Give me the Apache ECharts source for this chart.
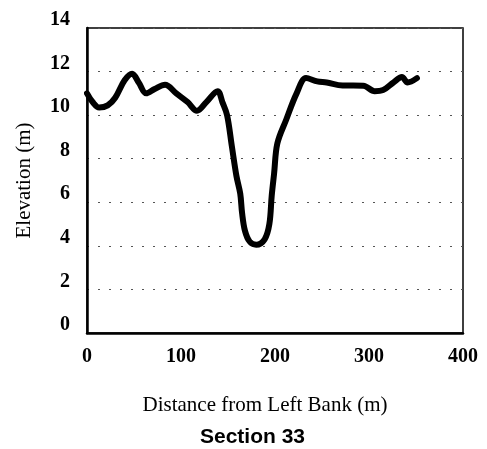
<!DOCTYPE html>
<html>
<head>
<meta charset="utf-8">
<script src="https://cdn.jsdelivr.net/npm/echarts@6/dist/echarts.min.js"></script>
<style>
  html, body { margin: 0; padding: 0; background: #fff; }
  #chart { width: 487px; height: 449px; }
</style>
</head>
<body>
<div id="chart"></div>
<script>
// Cross-section survey: distance from the left bank (m) and bed elevation (m)
const distance = [0, 6, 13, 22, 30, 40, 48, 55, 63, 72, 83, 95, 107, 117, 127, 139, 144, 149, 154, 159, 163, 165, 168, 173, 180, 189, 194, 196.5, 199, 202.5, 212, 223, 233, 245, 255, 272, 294, 306, 315, 326, 335, 341, 351];
const elevation = [11.0, 10.6, 10.35, 10.45, 10.8, 11.6, 11.9, 11.5, 11.0, 11.2, 11.4, 11.0, 10.6, 10.2, 10.6, 11.1, 10.6, 10.0, 8.6, 7.2, 6.4, 5.5, 4.7, 4.2, 4.05, 4.3, 5.0, 6.3, 7.3, 8.7, 9.8, 11.0, 11.7, 11.55, 11.5, 11.36, 11.35, 11.1, 11.15, 11.5, 11.75, 11.5, 11.7];
const xTicks = [0, 100, 200, 300, 400];
const yTicks = [0, 2, 4, 6, 8, 10, 12, 14];
const xTitle = 'Distance from Left Bank (m)';
const yTitle = 'Elevation (m)';
const sectionLabel = 'Section 33';

const points = distance.map((d, i) => [d, elevation[i]]);
const serif = '"Liberation Serif", "Times New Roman", serif';

const chart = echarts.init(document.getElementById('chart'));
chart.setOption({
  animation: false,
  backgroundColor: '#fff',
  grid: {
    left: 87, right: 24, top: 28, bottom: 116,
    show: true, borderColor: '#000', borderWidth: 1.5
  },
  xAxis: {
    type: 'value',
    min: xTicks[0], max: xTicks[xTicks.length - 1],
    interval: xTicks[1] - xTicks[0],
    name: xTitle,
    nameLocation: 'middle',
    nameGap: 62,
    nameTextStyle: { fontFamily: serif, fontSize: 21, color: '#000', padding: [0, 20, 0, 0] },
    axisLine: { show: true, lineStyle: { color: '#000', width: 2.5 } },
    axisTick: { show: false },
    splitLine: { show: false },
    axisLabel: { fontFamily: serif, fontSize: 20, fontWeight: 'bold', color: '#000', margin: 14 }
  },
  yAxis: {
    type: 'value',
    min: yTicks[0], max: yTicks[yTicks.length - 1],
    interval: yTicks[1] - yTicks[0],
    name: yTitle,
    nameLocation: 'middle',
    nameGap: 52,
    nameTextStyle: { fontFamily: serif, fontSize: 21, color: '#000' },
    axisLine: { show: true, lineStyle: { color: '#000', width: 2.5 } },
    axisTick: { show: false },
    splitLine: { show: true, lineStyle: { color: '#555', width: 1, type: [2, 9] } },
    axisLabel: { fontFamily: serif, fontSize: 20, fontWeight: 'bold', color: '#000', margin: 17, verticalAlign: 'bottom', lineHeight: 16 }
  },
  graphic: [{
    type: 'text',
    left: 200, top: 427,
    style: { text: sectionLabel, font: 'bold 21px "Liberation Sans", Arial, sans-serif', fill: '#000' }
  }],
  series: [{
    type: 'line',
    data: points,
    smooth: 0.35,
    showSymbol: false,
    lineStyle: { color: '#000', width: 6, cap: 'round', join: 'round' }
  }]
});
</script>
</body>
</html>
